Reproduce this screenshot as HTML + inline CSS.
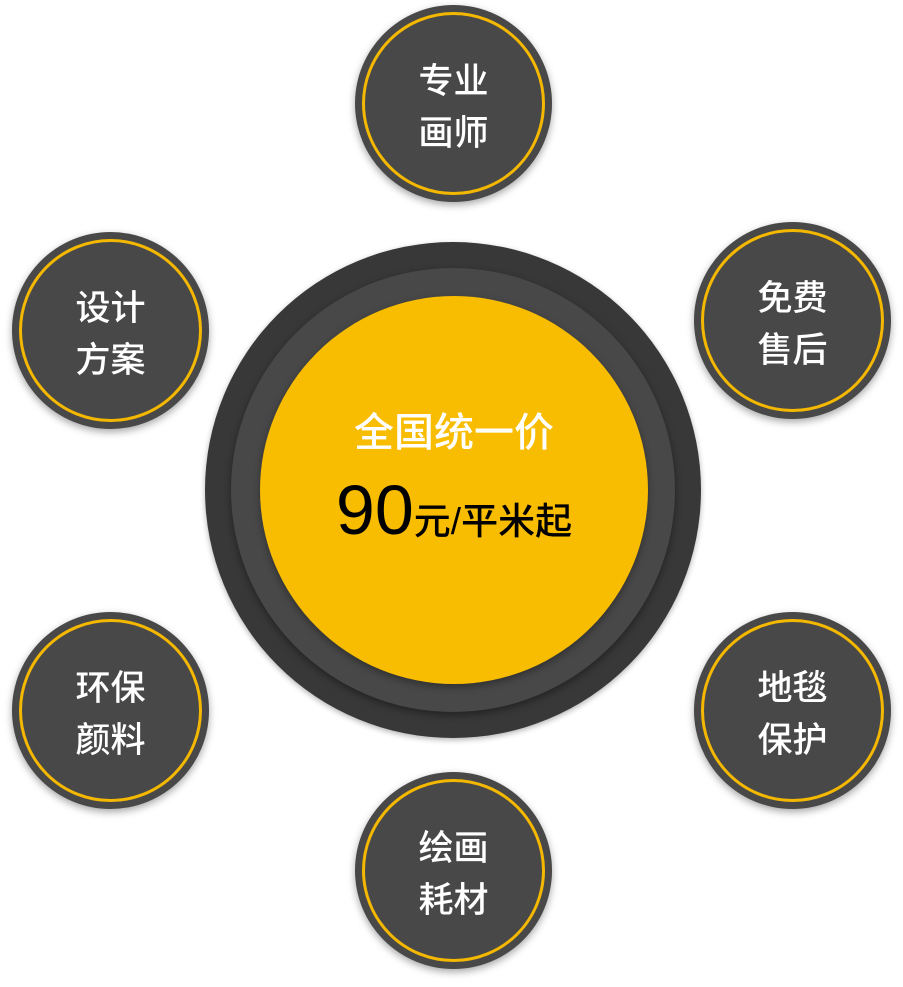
<!DOCTYPE html>
<html><head><meta charset="utf-8"><style>
html,body{margin:0;padding:0;background:#fff;}
body{width:903px;height:987px;position:relative;overflow:hidden;font-family:"Liberation Sans","Noto Sans CJK SC",sans-serif;}
.s{position:absolute;width:197px;height:197px;border-radius:50%;background:#484848;box-shadow:0 3px 8px rgba(0,0,0,0.35);}
.s .r{position:absolute;left:7px;top:7px;width:177px;height:177px;border-radius:50%;border:3px solid #f5b800;}
.s .t{position:absolute;left:0;top:4px;width:197px;height:197px;display:flex;align-items:center;justify-content:center;text-align:center;color:#fff;font-size:35px;line-height:52px;font-weight:500;}
.c{position:absolute;border-radius:50%;}
</style></head><body>
<div class="c" style="left:205px;top:242px;width:496px;height:496px;background:#383838;box-shadow:0 2px 6px rgba(0,0,0,0.3);"></div>
<div class="c" style="left:231px;top:268px;width:444px;height:444px;background:#484848;box-shadow:0 3px 8px rgba(0,0,0,0.4);"></div>
<div class="c" style="left:260px;top:296px;width:388px;height:388px;background:#f8bc00;box-shadow:0 3px 8px rgba(0,0,0,0.35);"></div>
<div style="position:absolute;left:250px;top:400px;width:408px;text-align:center;color:#fff;font-size:40px;font-weight:500;">全国统一价</div>
<div style="position:absolute;left:250px;top:470px;width:408px;text-align:center;color:#000;font-size:37px;font-weight:500;"><span style="font-size:70px;">90</span>元/平米起</div>

<div class="s" style="left:355px;top:5px;"><div class="r"></div><div class="t">专业<br>画师</div></div>
<div class="s" style="left:12px;top:232px;"><div class="r"></div><div class="t">设计<br>方案</div></div>
<div class="s" style="left:694px;top:222px;"><div class="r"></div><div class="t">免费<br>售后</div></div>
<div class="s" style="left:12px;top:612px;"><div class="r"></div><div class="t">环保<br>颜料</div></div>
<div class="s" style="left:694px;top:612px;"><div class="r"></div><div class="t">地毯<br>保护</div></div>
<div class="s" style="left:355px;top:772px;"><div class="r"></div><div class="t">绘画<br>耗材</div></div>
</body></html>
